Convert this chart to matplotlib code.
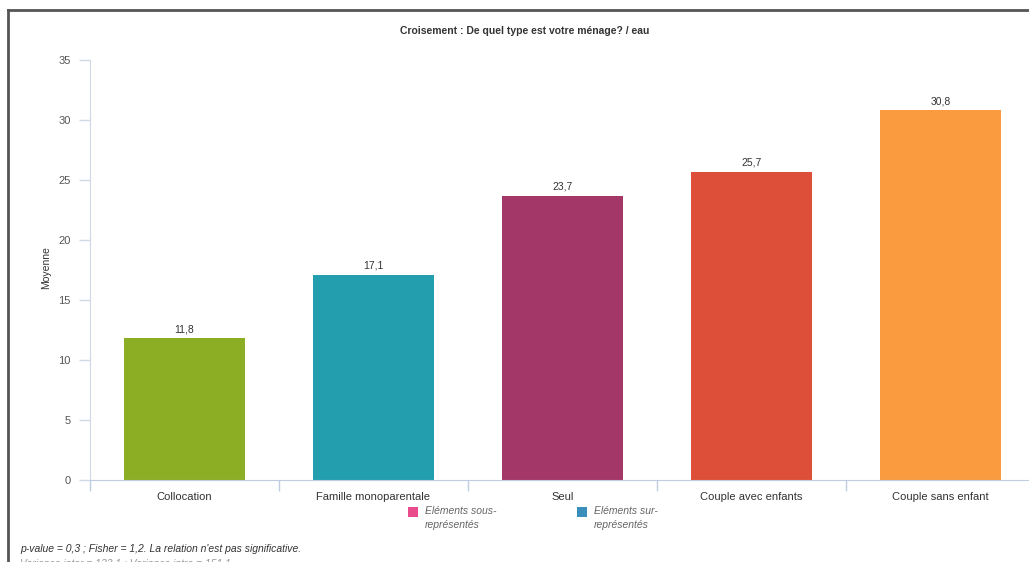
import matplotlib
matplotlib.use("Agg")
import matplotlib.pyplot as plt
from matplotlib.patches import Rectangle
from matplotlib.lines import Line2D

categories = ["Collocation", "Famille monoparentale", "Seul", "Couple avec enfants", "Couple sans enfant"]
values = [11.8, 17.1, 23.7, 25.7, 30.8]
value_labels = ["11,8", "17,1", "23,7", "25,7", "30,8"]
colors = ["#8BAE24", "#229EAE", "#A33767", "#DD4F38", "#F99B3E"]
yticks = [0, 5, 10, 15, 20, 25, 30, 35]
title = "Croisement : De quel type est votre ménage? / eau"
ylabel = "Moyenne"
legend_labels = ["Eléments sous-\nreprésentés", "Eléments sur-\nreprésentés"]
legend_colors = ["#E84C8B", "#3A8EBA"]
footnote = "p-value = 0,3 ; Fisher = 1,2. La relation n'est pas significative."
footnote2 = "Variance inter = 133,1 ; Variance intra = 151,1"

plt.rcParams['font.family'] = ['Liberation Sans', 'DejaVu Sans']

W, H = 1029, 562
fig = plt.figure(figsize=(W / 100, H / 100), dpi=100)
fig.patch.set_facecolor("white")

# frame border
fig.add_artist(Line2D([8 / W, 8 / W], [0, 1 - 10 / H], transform=fig.transFigure, color="#555555", lw=2))
fig.add_artist(Line2D([8 / W, 1], [1 - 10 / H, 1 - 10 / H], transform=fig.transFigure, color="#555555", lw=2))

left = 90 / W
right = (90 + 5 * 189) / W
bottom = (H - 480) / H
top = (H - 60) / H
ax = fig.add_axes([left, bottom, right - left, top - bottom])
ax.set_xlim(-0.5, len(categories) - 0.5)
ax.set_ylim(0, 35)

x = list(range(len(categories)))
bars = ax.bar(x, values, width=0.64, color=colors, zorder=2)
for xi, v, lab in zip(x, values, value_labels):
    ax.text(xi, v + 0.35, lab, ha="center", va="bottom", fontsize=7.5, color="#333333")

for s in ["top", "right"]:
    ax.spines[s].set_visible(False)
ax.spines["left"].set_color("#D0D8E8")
ax.spines["bottom"].set_color("#C0CCE0")
ax.set_yticks(yticks)
ax.set_yticklabels([str(t) for t in yticks])
ax.tick_params(axis="y", colors="#D0D8E8", labelcolor="#555555", labelsize=8, length=8, width=1, pad=6)
ax.set_xticks([i - 0.5 for i in range(len(categories) + 1)])
ax.set_xticklabels([])
ax.tick_params(axis="x", colors="#C0CCE0", length=8, width=1)
for xi, c in zip(x, categories):
    ax.text(xi, -0.028, c, transform=ax.get_xaxis_transform(), ha="center", va="top",
            fontsize=8, color="#333333")

fig.text(46 / W, 1 - 268 / H, ylabel, rotation=90, ha="center", va="center", fontsize=7.5, color="#333333")
fig.text(525 / W, 1 - 31 / H, title, ha="center", va="center", fontsize=7.5, fontweight="bold", color="#333333")

# legend
for (lx, ltxt, lc) in [(408, legend_labels[0], legend_colors[0]), (577, legend_labels[1], legend_colors[1])]:
    fig.add_artist(Rectangle((lx / W, 1 - 517 / H), 10 / W, 10 / H, transform=fig.transFigure,
                             facecolor=lc, edgecolor="none"))
    fig.text((lx + 17) / W, 1 - 506 / H, ltxt, ha="left", va="top", fontsize=7.5, style="italic",
             color="#666666", linespacing=1.55)

fig.text(20 / W, 1 - 549 / H, footnote, ha="left", va="center", fontsize=7.5, style="italic", color="#333333")
fig.text(20 / W, 1 - 564 / H, footnote2, ha="left", va="center", fontsize=7.5, style="italic", color="#999999")

fig.savefig("out.png", dpi=100)
